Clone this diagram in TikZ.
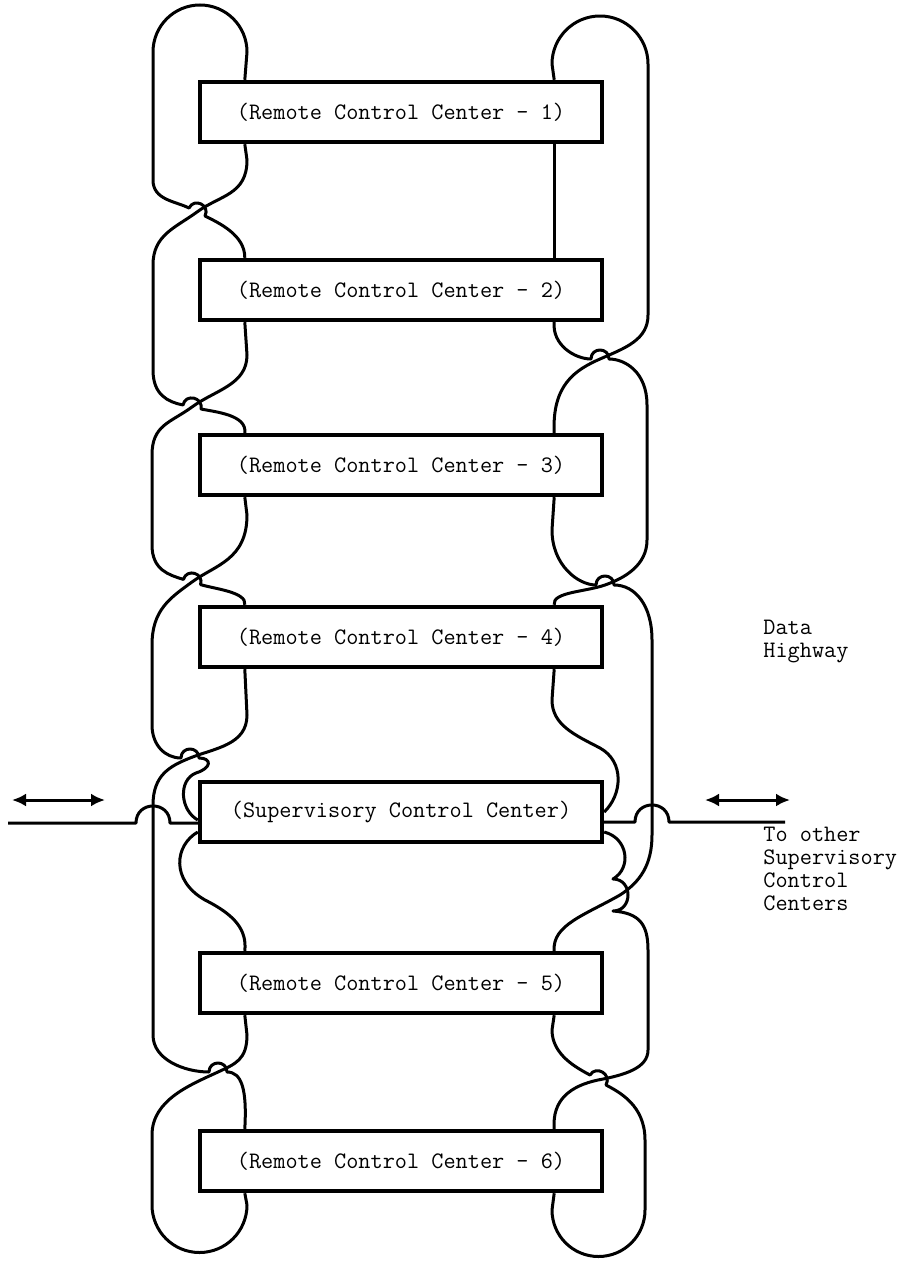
\documentclass[tikz,border=0pt]{standalone}
\usetikzlibrary{arrows.meta}
\begin{document}
\begin{tikzpicture}[x=0.5pt, y=-0.5pt]
  \tikzstyle{box}=[draw, line width=2.2pt, minimum width=201pt, minimum height=30pt, inner sep=0pt, fill=white, font=\ttfamily\fontsize{11.8}{13}\selectfont]
  \tikzstyle{link}=[line width=1.5pt, line join=round]
  \tikzstyle{note}=[anchor=north west, inner sep=0pt, align=left, font=\ttfamily\fontsize{11.8}{11.5}\selectfont]
  \tikzstyle{hwarrow}=[line width=1.5pt, >={Latex[length=7pt,width=6.5pt]}, <->]

  \useasboundingbox (0,0) rectangle (905,1263);

  \node[box] (r1)  at (401, 112)  {(Remote Control Center - 1)};
  \node[box] (r2)  at (401, 290)  {(Remote Control Center - 2)};
  \node[box] (r3)  at (401, 465)  {(Remote Control Center - 3)};
  \node[box] (r4)  at (401, 637)  {(Remote Control Center - 4)};
  \node[box] (scc) at (401, 812)  {(Supervisory Control Center)};
  \node[box] (r5)  at (401, 983)  {(Remote Control Center - 5)};
  \node[box] (r6)  at (401, 1161) {(Remote Control Center - 6)};

  \node[note] (dh) at (763, 620) {Data\\Highway};
  \node[note] (to) at (763, 827) {To other\\Supervisory\\Control\\Centers};

  \coordinate (hwl) at (8, 823);
  \coordinate (hwr) at (785, 822);
  \coordinate (al1) at (12, 800);
  \coordinate (al2) at (105, 800);
  \coordinate (ar1) at (705, 800);
  \coordinate (ar2) at (790, 800);

  \draw[link] ([xshift=23.5pt]r1.north west) -- (247,52) .. controls (247,26) and (226,5) .. (200,5)
    .. controls (174,5) and (153,26) .. (153,52) -- (153,180)
    .. controls (153,200) and (175,201) .. (189,208) .. controls (194.4,197.3) and (210.4,205.3) .. (205,216)
    .. controls (219,223) and (245,235) .. ([xshift=23.5pt]r2.north west);
  \draw[link] ([xshift=23.5pt]r1.south west) -- (247,160) .. controls (247,195) and (220,195) .. (197,212)
    .. controls (175,228) and (153,235) .. (153,265) -- (153,370)
    .. controls (153,395) and (168,402) .. (183,405) .. controls (185.4,393.2) and (203.4,397.2) .. (201,409)
    .. controls (216,412) and (247,415) .. ([xshift=23.5pt]r3.north west);
  \draw[link] ([xshift=23.5pt]r2.south west) -- (247,355) .. controls (247,385) and (215,390) .. (192,407)
    .. controls (170,423) and (152,425) .. (152,455) -- (152,545)
    .. controls (152,570) and (169,575) .. (183.4,579.4) .. controls (186.9,567.9) and (204.1,573.1) .. (200.6,584.6)
    .. controls (215,589) and (247,592) .. ([xshift=23.5pt]r4.north west);
  \draw[link] ([xshift=23.5pt]r3.south west) -- (247,515) .. controls (247,560) and (215,565) .. (192,582)
    .. controls (170,598) and (152,610) .. (152,645) -- (152,725)
    .. controls (152,745) and (165,758) .. (181,758) .. controls (181,746) and (199,746) .. (199,758)
    .. controls (212,758) and (212,768) .. (196,773) .. controls (178,780) and (180,810) .. ([yshift=-4pt]scc.west);
  \draw[link] ([xshift=23.5pt]r4.south west) -- (247,715) .. controls (247,745) and (215,748) .. (190,758)
    .. controls (170,766) and (153,775) .. (153,805) -- (153,1035)
    .. controls (153,1060) and (185,1072) .. (209,1072) .. controls (209,1060) and (227,1060) .. (227,1072)
    .. controls (242,1072) and (247,1090) .. ([xshift=23.5pt]r6.north west);
  \draw[link] ([yshift=-10pt]scc.west) .. controls (175,845) and (170,880) .. (205,900)
    .. controls (235,915) and (247,930) .. ([xshift=23.5pt]r5.north west);
  \draw[link] ([xshift=23.5pt]r5.south west) -- (247,1035) .. controls (247,1060) and (235,1064) .. (218,1072)
    .. controls (190,1085) and (152,1100) .. (152,1135) -- (152,1205)
    .. controls (152,1231) and (173,1252.5) .. (199.5,1252.5) .. controls (226,1252.5) and (247,1231) .. (247,1205)
    -- ([xshift=23.5pt]r6.south west);

  \draw[link] ([xshift=-25pt]r1.north east) -- (552,64) .. controls (552,37.5) and (573.5,16) .. (600,16)
    .. controls (626.5,16) and (648,37.5) .. (648,64) -- (648,315)
    .. controls (648,340) and (625,348) .. (600,359) .. controls (575,370) and (552,385) .. ([xshift=-25pt]r3.north east);
  \draw[link] ([xshift=-25pt]r1.south east) -- ([xshift=-25pt]r2.north east);
  \draw[link] ([xshift=-25pt]r2.south east) .. controls (552,345) and (575,359) .. (591,359)
    .. controls (591,347) and (609,347) .. (609,359) .. controls (625,359) and (647,372) .. (647,405) -- (647,540)
    .. controls (647,565) and (625,578) .. (605,585) .. controls (585,592) and (552,592) .. ([xshift=-25pt]r4.north east);
  \draw[link] ([xshift=-25pt]r3.south east) -- (552,530) .. controls (552,565) and (578,585) .. (596,585)
    .. controls (596,573) and (614,573) .. (614,585) .. controls (635,585) and (652,605) .. (652,640) -- (652,835)
    .. controls (652,865) and (640,882) .. (620,895) .. controls (585,915) and (552,925) .. ([xshift=-25pt]r5.north east);
  \draw[link] ([xshift=-25pt]r4.south east) -- (552,700) .. controls (552,725) and (575,735) .. (600,748)
    .. controls (625,762) and (622,795) .. (scc.east);
  \draw[link] ([yshift=-10pt]scc.east) .. controls (628,838) and (632,868) .. (613,879)
    .. controls (633,879) and (633,911) .. (613,911) .. controls (640,913) and (648,925) .. (648,950) -- (648,1050)
    .. controls (648,1068) and (625,1075) .. (598,1080) .. controls (570,1086) and (552,1100) .. ([xshift=-25pt]r6.north east);
  \draw[link] ([xshift=-25pt]r5.south east) -- (552,1030) .. controls (552,1055) and (577,1068) .. (590,1075)
    .. controls (596,1065) and (612,1074) .. (606,1085) .. controls (619,1092) and (645,1105) .. (645,1140) -- (645,1210)
    .. controls (645,1235.7) and (624.2,1256.5) .. (598.5,1256.5) .. controls (572.8,1256.5) and (552,1235.7) .. (552,1210)
    -- ([xshift=-25pt]r6.south east);

  \draw[link] (hwl) -- (136,823) .. controls (136,800.3) and (170,800.3) .. (170,823) -- ([yshift=-5.5pt]scc.west);
  \draw[link] ([yshift=-5pt]scc.east) -- (635,822) .. controls (635,799.3) and (669,799.3) .. (669,822) -- (hwr);
  \draw[hwarrow] (al1) -- (al2);
  \draw[hwarrow] (ar1) -- (ar2);
\end{tikzpicture}
\end{document}
